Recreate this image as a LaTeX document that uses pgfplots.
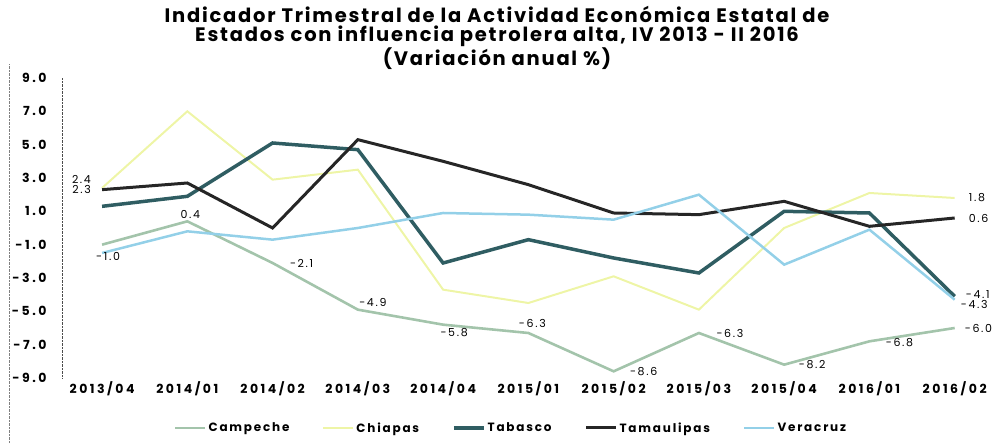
\documentclass[border=0pt]{standalone}
\usepackage{fontspec}
\setmainfont{Poppins}
\newfontfamily\titlefont[LetterSpace=9]{Poppins}
\newfontfamily\tickfont[LetterSpace=20]{Poppins}
\newfontfamily\widefont[LetterSpace=15]{Poppins}
\usepackage{pgfplots}
\pgfplotsset{compat=1.18}
\definecolor{campeche}{HTML}{A3C4AB}
\definecolor{chiapas}{HTML}{EEF5A6}
\definecolor{tabasco}{HTML}{2F5D62}
\definecolor{tamaulipas}{HTML}{262626}
\definecolor{veracruz}{HTML}{93D0E8}

\begin{document}
\begin{tikzpicture}[x=1pt,y=1pt,
    label node/.style={font=\widefont\fontsize{11}{12}\selectfont, inner sep=1pt}]
\useasboundingbox (0,0) rectangle (994,444);
% title
\node[align=center, font=\titlefont\bfseries\fontsize{19.5}{19.5}\selectfont] at (497,406)
  {Indicador Trimestral de la Actividad Económica Estatal de\\
   Estados con influencia petrolera alta, IV 2013 - II 2016\\
   (Variación anual \%)};
\draw[densely dotted, gray, thin] (9,0) -- (9,380);
\begin{axis}[
    at={(62pt,66pt)}, anchor=south west,
    scale only axis,
    width=914pt, height=300pt,
    xmin=-0.47, xmax=10.25,
    ymin=-9, ymax=9,
    axis y line*=left,
    axis x line*=bottom,
    x axis line style={draw=none},
    y axis line style={densely dotted, black!70, thin},
    tick style={draw=none},
    xtick={0,...,10},
    xticklabels={2013/04,2014/01,2014/02,2014/03,2014/04,2015/01,2015/02,2015/03,2015/04,2016/01,2016/02},
    ytick={-9,-7,-5,-3,-1,1,3,5,7,9},
    /pgf/number format/assume math mode=true,
    yticklabel={\pgfmathprintnumber[fixed,fixed zerofill,precision=1]{\tick}},
    yticklabel style={xshift=-12pt},
    ticklabel style={font=\tickfont\bfseries\fontsize{12.5}{13}\selectfont},
    clip=false,
    legend style={
        at={(axis description cs:0.5,0)}, anchor=center,
        xshift=-8pt, yshift=-50pt,
        draw=none, fill=none,
        legend columns=5,
        font=\widefont\bfseries\fontsize{12}{13}\selectfont,
        /tikz/every even column/.append style={column sep=31pt},
    },
    legend image code/.code={\draw[#1] (0pt,0pt) -- (30pt,0pt);},
]
\addplot[campeche, line width=2.6pt] coordinates {
    (0,-1.0) (1,0.4) (2,-2.1) (3,-4.9) (4,-5.8) (5,-6.3) (6,-8.6) (7,-6.3) (8,-8.2) (9,-6.8) (10,-6.0)
};
\addlegendentry{Campeche}
\addplot[chiapas, line width=2pt] coordinates {
    (0,2.4) (1,7.0) (2,2.9) (3,3.5) (4,-3.7) (5,-4.5) (6,-2.9) (7,-4.9) (8,0.0) (9,2.1) (10,1.8)
};
\addlegendentry{Chiapas}
\addplot[tabasco, line width=3.5pt] coordinates {
    (0,1.3) (1,1.9) (2,5.1) (3,4.7) (4,-2.1) (5,-0.7) (6,-1.8) (7,-2.7) (8,1.0) (9,0.9) (10,-4.1)
};
\addlegendentry{Tabasco}
\addplot[tamaulipas, line width=3pt] coordinates {
    (0,2.3) (1,2.7) (2,0.0) (3,5.3) (4,4.0) (5,2.6) (6,0.9) (7,0.8) (8,1.6) (9,0.1) (10,0.6)
};
\addlegendentry{Tamaulipas}
\addplot[veracruz, line width=2.5pt] coordinates {
    (0,-1.5) (1,-0.2) (2,-0.7) (3,0.0) (4,0.9) (5,0.8) (6,0.5) (7,2.0) (8,-2.2) (9,-0.1) (10,-4.3)
};
\addlegendentry{Veracruz}

% value labels
\node[label node, anchor=east] at ([xshift=-10pt,yshift=9pt]axis cs:0,2.4) {2.4};
\node[label node, anchor=east] at ([xshift=-10pt]axis cs:0,2.3) {2.3};
\node[label node] at ([xshift=6pt,yshift=-12pt]axis cs:0,-1.0) {-1.0};
\node[label node] at ([xshift=3pt,yshift=7pt]axis cs:1,0.4) {0.4};
\node[label node] at ([xshift=29pt]axis cs:2,-2.1) {-2.1};
\node[label node] at ([xshift=15pt,yshift=7pt]axis cs:3,-4.9) {-4.9};
\node[label node] at ([xshift=11pt,yshift=-8pt]axis cs:4,-5.8) {-5.8};
\node[label node] at ([xshift=4pt,yshift=10pt]axis cs:5,-6.3) {-6.3};
\node[label node] at ([xshift=30pt]axis cs:6,-8.6) {-8.6};
\node[label node] at ([xshift=31pt]axis cs:7,-6.3) {-6.3};
\node[label node] at ([xshift=28pt]axis cs:8,-8.2) {-8.2};
\node[label node] at ([xshift=30pt,yshift=-1pt]axis cs:9,-6.8) {-6.8};
\node[label node, anchor=west] at ([xshift=9pt]axis cs:10,-6.0) {-6.0};
\node[label node, anchor=west] at ([xshift=10pt,yshift=2pt]axis cs:10,-4.1) {-4.1};
\node[label node, anchor=west] at ([xshift=5pt,yshift=-5pt]axis cs:10,-4.3) {-4.3};
\node[label node, anchor=west] at ([xshift=13pt]axis cs:10,1.8) {1.8};
\node[label node, anchor=west] at ([xshift=13pt]axis cs:10,0.6) {0.6};
\end{axis}
\end{tikzpicture}
\end{document}
